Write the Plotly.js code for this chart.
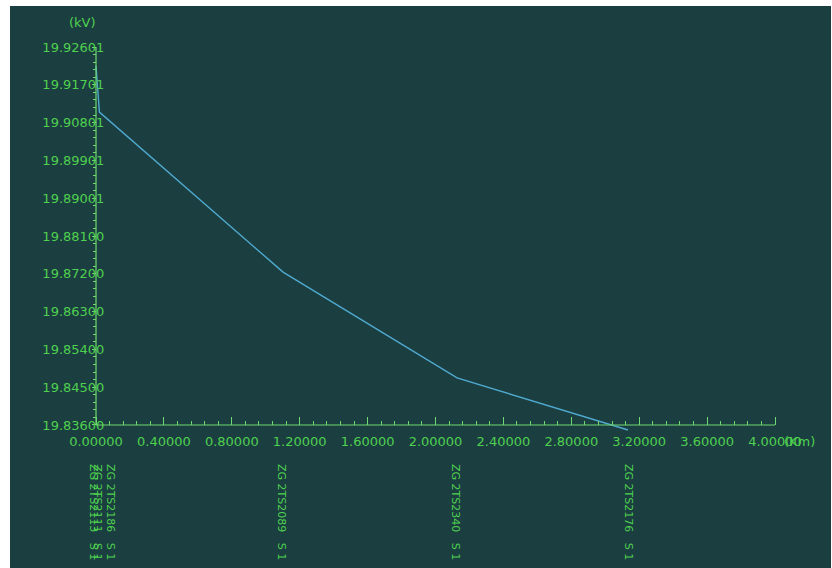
<!DOCTYPE html>
<html>
<head>
<meta charset="utf-8">
<script src="https://cdn.plot.ly/plotly-3.0.1.min.js"></script>
<style>
  html, body { margin: 0; padding: 0; background: #ffffff; }
  #chart { position: absolute; left: 10px; top: 6px; width: 821px; height: 562px; }
</style>
</head>
<body>
<div id="chart"></div>
<script>
// ---- data ----
const distanceKm = [0, 0.02, 1.102, 2.127, 3.134];
const voltageKv  = [19.9215, 19.9105, 19.8724, 19.8472, 19.8348];

const yTickVals = [19.836, 19.845, 19.854, 19.863, 19.872, 19.881, 19.89001, 19.89901, 19.90801, 19.91701, 19.92601];
const yTickText = ["19.83600", "19.84500", "19.85400", "19.86300", "19.87200", "19.88100", "19.89001", "19.89901", "19.90801", "19.91701", "19.92601"];
const xTickVals = [0, 0.4, 0.8, 1.2, 1.6, 2.0, 2.4, 2.8, 3.2, 3.6, 4.0];
const xTickText = ["0.00000", "0.40000", "0.80000", "1.20000", "1.60000", "2.00000", "2.40000", "2.80000", "3.20000", "3.60000", "4.00000"];

const nodeNames = ["ZG 2TS2113   S 1", "ZG 2TS2111   S 1", "ZG 2TS2186   S 1", "ZG 2TS2089   S 1", "ZG 2TS2340   S 1", "ZG 2TS2176   S 1"];
const nodeLabelX = [-0.018, 0.004, 0.082, 1.090, 2.115, 3.134];

// ---- layout helpers ----
const xRange = [-0.03535, 4.0766];
const yRange = [19.83433, 19.92768];
const yBase = 19.836, yTop = 19.92601, xEnd = 4.0;
const green = '#4fd04f';
const axisGreen = '#6fd86f';
const bg = '#1b3f40';
const px = v => (v - xRange[0]) / (xRange[1] - xRange[0]);   // x value -> paper
const py = v => (v - yRange[0]) / (yRange[1] - yRange[0]);   // y value -> paper

const trace = {
  x: distanceKm, y: voltageKv, type: 'scatter', mode: 'lines',
  line: { color: '#4fa9cf', width: 1.4 }, hoverinfo: 'skip'
};

const annotations = nodeNames.map((t, i) => ({
  x: px(nodeLabelX[i]), y: py(yBase - 0.02072), xref: 'paper', yref: 'paper',
  text: t, textangle: 90, showarrow: false,
  xanchor: 'center', yanchor: 'middle',
  font: { family: 'DejaVu Sans', size: 11, color: green }
}));
annotations.push({
  x: px(-0.082), y: py(19.93196), xref: 'paper', yref: 'paper', text: '(kV)', showarrow: false,
  xanchor: 'center', yanchor: 'middle',
  font: { family: 'DejaVu Sans', size: 13, color: green }
});
annotations.push({
  x: px(4.147), y: py(yBase - 0.0040), xref: 'paper', yref: 'paper', text: '(Km)', showarrow: false,
  xanchor: 'center', yanchor: 'middle',
  font: { family: 'DejaVu Sans', size: 13, color: green }
});

const layout = {
  width: 821, height: 562,
  margin: { l: 80, r: 43, t: 34, b: 136, pad: 0 },
  paper_bgcolor: bg, plot_bgcolor: bg,
  showlegend: false,
  xaxis: {
    range: xRange, showgrid: false, zeroline: false, showline: false,
    anchor: 'free', position: py(yBase),
    tickmode: 'array', tickvals: xTickVals, ticktext: xTickText,
    ticks: 'inside', ticklen: 8, tickwidth: 1, tickcolor: axisGreen,
    tickfont: { family: 'DejaVu Sans', size: 13, color: green },
    minor: { tick0: 0, dtick: 0.08, ticks: 'inside', ticklen: 4, tickcolor: axisGreen, showgrid: false },
    ticklabelstandoff: 7
  },
  yaxis: {
    range: yRange, showgrid: false, zeroline: false, showline: false,
    anchor: 'free', position: px(0),
    tickmode: 'array', tickvals: yTickVals, ticktext: yTickText,
    ticks: 'outside', ticklen: 4, tickwidth: 1, tickcolor: axisGreen,
    tickfont: { family: 'DejaVu Sans', size: 13, color: green },
    minor: { tick0: 19.836, dtick: 0.0018002, ticks: 'outside', ticklen: 3, tickcolor: axisGreen, showgrid: false },
    ticklabelstandoff: -15
  },
  shapes: [
    { type: 'line', xref: 'x', yref: 'y', x0: 0, x1: 0, y0: yBase, y1: yTop, line: { color: axisGreen, width: 1.2 } },
    { type: 'line', xref: 'x', yref: 'y', x0: 0, x1: xEnd, y0: yBase, y1: yBase, line: { color: axisGreen, width: 1.2 } }
  ],
  annotations: annotations
};

Plotly.newPlot('chart', [trace], layout, { staticPlot: true, displayModeBar: false });
</script>
</body>
</html>
